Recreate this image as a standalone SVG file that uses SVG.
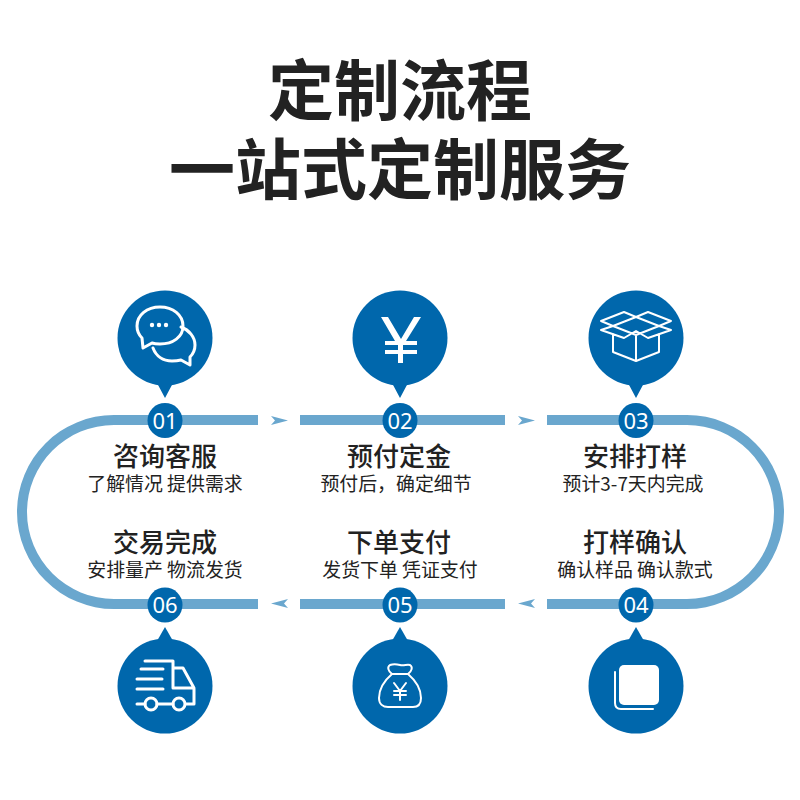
<svg xmlns="http://www.w3.org/2000/svg" width="800" height="800" viewBox="0 0 800 800">
<style>
.t{font-family:"Noto Sans CJK SC","Noto Sans",sans-serif;text-anchor:middle;fill:#222}
.h{font-size:66px;font-weight:700;fill:#222}
.a{font-size:26px;font-weight:500}
.b{font-size:18.900px;font-weight:400}
.n{font-family:"Noto Sans","Noto Sans CJK SC",sans-serif;font-size:22px;fill:#fff;text-anchor:middle}
.c{fill:#0067ac}
.i{fill:none;stroke:#fff;stroke-width:3;stroke-linejoin:round;stroke-linecap:round}
.i2{stroke-width:2}
.w{fill:#fff}
.l{fill:#6aa7ce}
</style>
<rect width="800" height="800" fill="#fff"/>
<text class="t h" x="400" y="115">定制流程</text>
<text class="t h" x="400" y="194">一站式定制服务</text>
<g id="connectors">
<path class="l" d="M258 415H114A97 97 0 0 0 114 609H258V599H114A87 87 0 0 1 114 425H258Z"/>
<rect class="l" x="300" y="415" width="205" height="10"/>
<rect class="l" x="300" y="599" width="205" height="10"/>
<path class="l" d="M547 415H687A97 97 0 0 1 687 609H547V599H687A87 87 0 0 0 687 425H547Z"/>
<path class="l" d="M271 416L288 420.500L271 425L275 420.500Z"/>
<path class="l" d="M518 416L535 420.500L518 425L522 420.500Z"/>
<path class="l" d="M288 599L271 603.500L288 608L284 603.500Z"/>
<path class="l" d="M535 599L518 603.500L535 608L531 603.500Z"/>
</g>
<g id="node-01">
<circle class="c" cx="165" cy="338" r="47.500"/><path class="c" d="M157 383L165 398L173 383Z"/>
<circle class="c" cx="165" cy="420.500" r="17.500"/><text class="n" x="165" y="428.500">01</text>
<path class="i" d="M143 348L142 338C139 335 137 331 137 326C137 315 147 307 160 307C173 307 183 315 183 326C183 337 173 344 160 344C157 344 155 344 152 343Z"/>
<path class="i" d="M181 327C189 330 195 337 195 345C195 350 193 354 190 357L190 365L181 360C177 361 174 361 172 361C163 361 156 356 153 348"/>
<circle class="w" cx="152" cy="325" r="2.200"/><circle class="w" cx="159" cy="325" r="2.200"/><circle class="w" cx="166" cy="325" r="2.200"/>
<text class="t a" x="165" y="466">咨询客服</text><text class="t b" x="165" y="491">了解情况 提供需求</text>
</g>
<g id="node-02">
<circle class="c" cx="400" cy="338" r="47.500"/><path class="c" d="M392 383L400 398L408 383Z"/>
<circle class="c" cx="400" cy="420.500" r="17.500"/><text class="n" x="400" y="428.500">02</text>
<path class="w" d="M381 317H388L401 339L414 317H421L406 341H417V345H403V350H417V354H403V363H398V354H385V350H398V345H385V341H395Z"/>
<text class="t a" x="399" y="466">预付定金</text><text class="t b" x="396" y="491">预付后，确定细节</text>
</g>
<g id="node-03">
<circle class="c" cx="636" cy="338" r="47.500"/><path class="c" d="M628 383L636 398L644 383Z"/>
<circle class="c" cx="636" cy="420.500" r="17.500"/><text class="n" x="636" y="428.500">03</text>
<path class="i i2" d="M613 326L601 321L624 312L636 317L648 312L671 321L659 326L671 330L648 338L636 331L624 338L601 330ZM613 326L636 317L659 326L636 335ZM613 334V352L636 361L659 352V334M636 335V361"/>
<text class="t a" x="635" y="466">安排打样</text><text class="t b" x="633" y="491">预计3-7天内完成</text>
</g>
<g id="node-04">
<circle class="c" cx="636" cy="686" r="47.500"/><path class="c" d="M628 641L636 627L644 641Z"/>
<circle class="c" cx="636" cy="605" r="17.500"/><text class="n" x="636" y="613">04</text>
<rect class="w" x="619" y="665" width="40" height="40" rx="5"/>
<path class="i i2" d="M615 672V703C615 707 617 709 621 709H653"/>
<text class="t a" x="635" y="552">打样确认</text><text class="t b" x="635" y="577">确认样品 确认款式</text>
</g>
<g id="node-05">
<circle class="c" cx="400" cy="686" r="47.500"/><path class="c" d="M392 641L400 627L408 641Z"/>
<circle class="c" cx="400" cy="605" r="17.500"/><text class="n" x="400" y="613">05</text>
<path class="i i2" d="M392 674C385 680 379 689 379 698C379 704 383 707 388 707H413C418 707 421 704 421 698C421 689 415 680 408 674C412 671 413 667 410 665C407 664 404 666 400 665C396 664 393 664 390 665C387 667 388 671 392 674Z"/>
<path class="i i2" d="M392 674H408"/>
<path class="i i2" d="M394 683L400 691L406 683M394 691H406M394 695H406M400 691V700"/>
<text class="t a" x="399" y="552">下单支付</text><text class="t b" x="400" y="577">发货下单 凭证支付</text>
</g>
<g id="node-06">
<circle class="c" cx="165" cy="686" r="47.500"/><path class="c" d="M157 641L165 627L173 641Z"/>
<circle class="c" cx="165" cy="605" r="17.500"/><text class="n" x="165" y="613">06</text>
<path class="i" d="M145 661H173V688H194V704H186M173 668H183L194 688M141 669H163M137 679H162M137 689H163M137 704H145M157 704H173"/>
<circle class="i" cx="151" cy="704" r="6"/><circle class="i" cx="179" cy="704" r="6"/>
<text class="t a" x="165" y="552">交易完成</text><text class="t b" x="165" y="577">安排量产 物流发货</text>
</g>
</svg>
